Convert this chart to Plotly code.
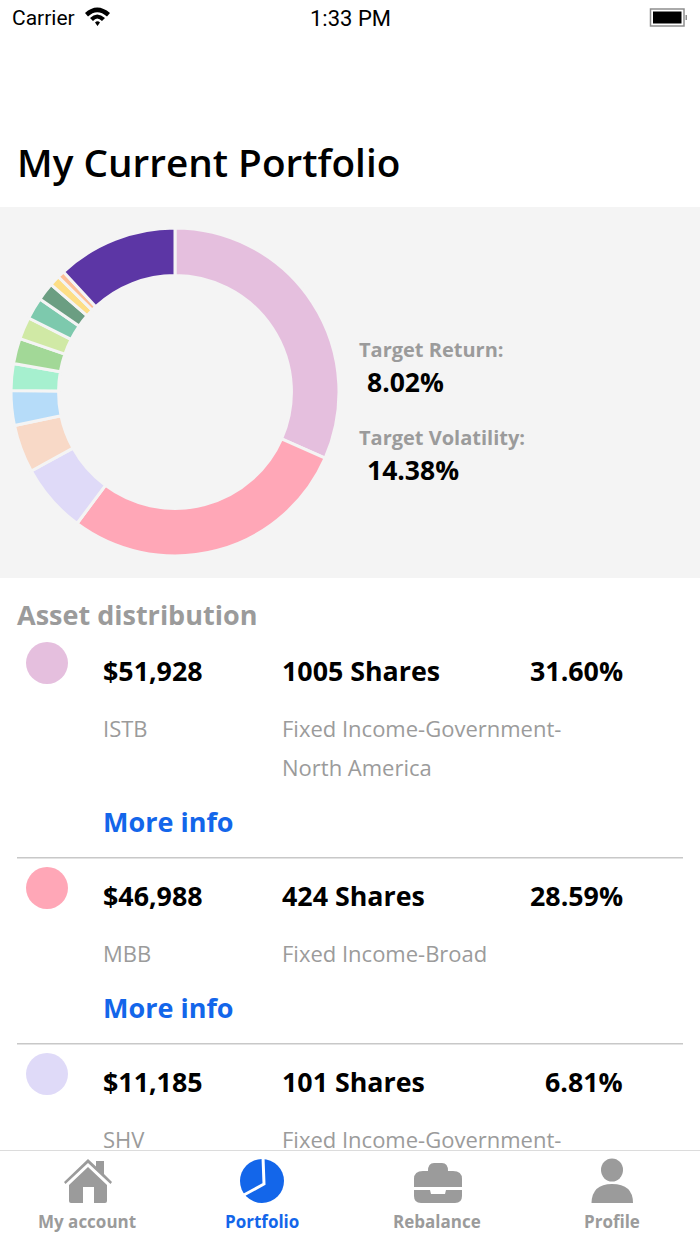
import plotly.graph_objects as go

# donut shares, clockwise from 12 o'clock
slice_values = [31.60, 28.59, 6.81, 4.72, 3.42, 2.64, 2.50, 2.17, 2.14, 1.78, 1.03, 0.69, 11.91]
slice_colors = ['#e5bfde', '#ffa7b7', '#dfdaf8', '#f8d9c7', '#b6dcf9', '#a6f0cf', '#a2d897',
                '#d0e9a5', '#7dc9ad', '#6b9e82', '#fdde85', '#fdbf96', '#5c36a5']

amounts = ['$51,928', '$46,988', '$11,185']
shares = ['1005 Shares', '424 Shares', '101 Shares']
percents = ['31.60%', '28.59%', '6.81%']
tickers = ['ISTB', 'MBB', 'SHV']
tab_labels = ['My account', 'Portfolio', 'Rebalance', 'Profile']

GREY = '#9b9b9b'
BLUE = '#1366ea'
FONT = 'Open Sans'

fig = go.Figure()
fig.add_trace(go.Pie(values=slice_values, sort=False, direction='clockwise', rotation=0, hole=0.71,
                     textinfo='none', hoverinfo='skip', showlegend=False,
                     marker=dict(colors=slice_colors, line=dict(color='#f4f4f4', width=3)),
                     domain=dict(x=[11 / 700, 339 / 700], y=[1 - 556 / 1244, 1 - 228 / 1244])))


def text(x, y, s, size, color='#000000', weight=400, anchor='left', family=FONT):
    # annotations carry 2px of padding + border
    dx = {'left': -2, 'center': 0, 'right': 2}[anchor]
    fig.add_annotation(x=x + dx, y=y - 1, text=s, showarrow=False, xanchor=anchor, yanchor='middle',
                       xref='x', yref='y', align=anchor,
                       font=dict(family=family, size=size, color=color, weight=weight))


def path(d, color):
    fig.add_shape(type='path', path=d, xref='x', yref='y', fillcolor=color, line_width=0, layer='above')


def rect(x0, y0, x1, y1, color, layer='above'):
    fig.add_shape(type='rect', x0=x0, y0=y0, x1=x1, y1=y1, xref='x', yref='y',
                  fillcolor=color, line_width=0, layer=layer)


def circle(cx, cy, r, color, ry=None):
    ry = ry or r
    fig.add_shape(type='circle', x0=cx - r, y0=cy - ry, x1=cx + r, y1=cy + ry, xref='x', yref='y',
                  fillcolor=color, line_width=0, layer='above')


# status bar
text(12, 19, 'Carrier', 21, family='Roboto')
path('M85 13 Q97 2 110 13 L107 16.5 Q97 8 88 16.5 Z M90 18 Q97 11 105 18 L102 21 Q97 16 93 21 Z '
     'M95 22.5 Q97.5 20 100 22.5 L97.5 26 Z', '#000000')
text(350, 19, '1:33 PM', 22, anchor='center', family='Roboto')
fig.add_shape(type='rect', x0=650.5, y0=9, x1=684, y1=26, xref='x', yref='y', layer='above',
              line=dict(color='#8e8e8e', width=1.5), fillcolor='#ffffff')
rect(653, 11.5, 681.5, 23.5, '#000000')
rect(685.5, 15, 687, 20, '#8e8e8e')

text(17, 163, 'My Current Portfolio', 38.7, weight=600)

# grey panel
rect(0, 207, 700, 578, '#f4f4f4', layer='below')
text(359, 350, 'Target Return:', 20, GREY, 700)
text(367, 383, '8.02%', 26.5, weight=700)
text(359, 438, 'Target Volatility:', 20, GREY, 700)
text(367, 471, '14.38%', 26.5, weight=700)

# asset list
text(17, 615, 'Asset distribution', 27, GREY, 700)

row_tops = [672, 897, 1083]
for i, y in enumerate(row_tops):
    circle(47, y - 9, 21, slice_colors[i])
    text(103, y - 1, amounts[i], 26.8, weight=700)
    text(282, y - 1, shares[i], 26.8, weight=700)
    text(623, y - 1, percents[i], 26.8, weight=700, anchor='right')
    text(103, y + 57, tickers[i], 22, GREY)

text(282, 729, 'Fixed Income-Government-', 22, GREY)
text(282, 768, 'North America', 22, GREY)
text(282, 954, 'Fixed Income-Broad', 22, GREY)
text(282, 1140, 'Fixed Income-Government-', 22, GREY)
text(103, 822, 'More info', 27, BLUE, 700)
text(103, 1008, 'More info', 27, BLUE, 700)
rect(17, 857, 683, 858.5, '#c8c8c8')
rect(17, 1043, 683, 1044.5, '#c8c8c8')

# tab bar
rect(0, 1150, 700, 1244, '#ffffff')
rect(0, 1150, 700, 1151, '#dcdcdc')
tab_centers = [87, 262, 437, 612]
for i, cx in enumerate(tab_centers):
    text(cx, 1222, tab_labels[i], 17, BLUE if i == 1 else GREY, 700, anchor='center')

# house
path('M64 1182 L88 1159 L96 1166.5 L96 1161 L104 1161 L104 1174 L112 1182 L110.5 1184 L88 1163 L65.5 1184 Z', GREY)
path('M69 1185 L88 1167 L107 1185 L107 1201 Q107 1203 105 1203 L94 1203 L94 1187 L83 1187 L83 1203 '
     'L71 1203 Q69 1203 69 1201 Z', GREY)
# pie icon
circle(262, 1181, 22, BLUE)
fig.add_shape(type='path', path='M263 1157 L264 1184 L242 1196', xref='x', yref='y', layer='above',
              line=dict(color='#ffffff', width=3), fillcolor='rgba(0,0,0,0)')
# briefcase
path('M414 1179 Q414 1171 423 1171 L428 1171 Q428 1163 434 1163 L442 1163 Q448 1163 448 1171 L453 1171 '
     'Q462 1171 462 1179 L462 1187 L414 1187 Z', GREY)
path('M414 1190 L430 1190 L431 1194 L445 1194 L446 1190 L462 1190 L462 1196 Q462 1203 455 1203 L421 1203 '
     'Q414 1203 414 1196 Z', GREY)
# person
circle(612, 1170, 11, GREY, ry=11.5)
path('M591.5 1203 Q592 1184 612 1184 Q633 1184 633 1203 Z', GREY)

fig.update_layout(width=700, height=1244, margin=dict(l=0, r=0, t=0, b=0),
                  paper_bgcolor='#ffffff', plot_bgcolor='#ffffff',
                  xaxis=dict(range=[0, 700], visible=False, fixedrange=True),
                  yaxis=dict(range=[1244, 0], visible=False, fixedrange=True))
fig.write_html("out.html", config={'displayModeBar': False},
               post_script="document.body.style.margin='0';")
